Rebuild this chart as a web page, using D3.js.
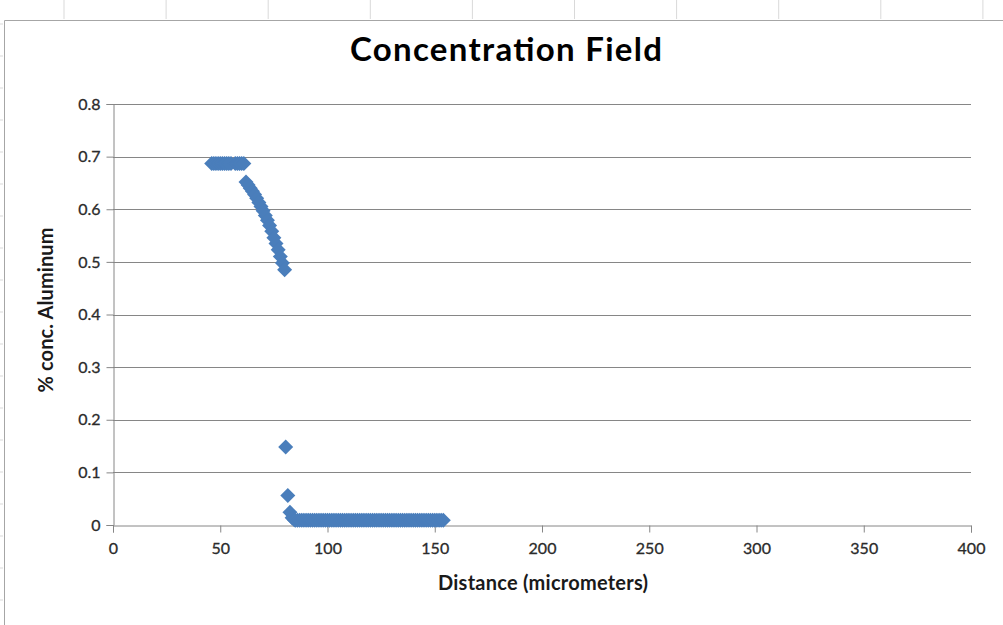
<!DOCTYPE html>
<meta charset="utf-8" />
<script src="https://d3js.org/d3.v7.min.js"></script>
<style>
  body { margin: 0; background: #fff; }
  text { font-family: Lato, "Open Sans", sans-serif; }
</style>
<svg id="chart" width="1003" height="625"></svg>
<script>
  // data (distance in micrometers, fraction Al)
  var plateauX = [46, 47, 48, 49, 50, 51, 52, 53, 54, 55, 57, 58, 59, 60, 61];
  var plateauY = [0.687, 0.687, 0.687, 0.687, 0.687, 0.687, 0.687, 0.687, 0.687, 0.687, 0.687, 0.687, 0.687, 0.687, 0.687];
  var slopeX = [62, 63, 64, 65, 66, 67, 68, 69, 70, 71, 72, 73, 74, 75, 76, 77, 78, 79, 80];
  var slopeY = [0.652, 0.646, 0.64, 0.634, 0.628, 0.621, 0.613, 0.605, 0.597, 0.588, 0.579, 0.569, 0.558, 0.546, 0.535, 0.523, 0.51, 0.498, 0.485];
  var dropX = [80.5, 81.5, 82.5, 83.5, 84.5];
  var dropY = [0.148, 0.056, 0.024, 0.014, 0.01];
  var tailX = [85, 86, 87, 88, 89, 90, 91, 92, 93, 94, 95, 96, 97, 98, 99, 100, 101, 102, 103, 104, 105, 106, 107, 108, 109, 110,
    111, 112, 113, 114, 115, 116, 117, 118, 119, 120, 121, 122, 123, 124, 125, 126, 127, 128, 129, 130, 131, 132, 133, 134, 135,
    136, 137, 138, 139, 140, 141, 142, 143, 144, 145, 146, 147, 148, 149, 150, 151, 152, 153, 154];
  var tailY = tailX.map(function() { return 0.009; }); // flat, all read as ~0.009

  var xTicks = [0, 50, 100, 150, 200, 250, 300, 350, 400];
  var yTicks = [0, 0.1, 0.2, 0.3, 0.4, 0.5, 0.6, 0.7, 0.8];

  var points = [];
  [[plateauX, plateauY], [slopeX, slopeY], [dropX, dropY], [tailX, tailY]].forEach(function(s) {
    s[0].forEach(function(x, i) { points.push({ x: x, y: s[1][i] }); });
  });

  var svg = d3.select("#chart");
  var gridColor = "#868686";

  // spreadsheet bits behind the chart object
  var sheet = svg.append("g").attr("stroke", "#d9d9d9");
  d3.range(64, 1003, 102.1).forEach(function(x) {
    sheet.append("line").attr("x1", x).attr("x2", x).attr("y1", 0).attr("y2", 19);
  });
  d3.range(24, 625, 32).forEach(function(y) {
    sheet.append("line").attr("x1", 0).attr("x2", 3).attr("y1", y).attr("y2", y);
  });

  // chart object frame
  svg.append("path")
    .attr("d", "M4.5,625V20.5H1003")
    .attr("fill", "none")
    .attr("stroke", "#a6a6a6");

  var x = d3.scaleLinear().domain([0, 400]).range([113, 971]);
  var y = d3.scaleLinear().domain([0, 0.8]).range([525, 104]);

  // horizontal gridlines
  svg.append("g")
    .selectAll("line")
    .data(yTicks.slice(1))
    .enter()
    .append("line")
    .attr("x1", x(0))
    .attr("x2", x(400))
    .attr("y1", function(d) { return Math.round(y(d)) + 0.5; })
    .attr("y2", function(d) { return Math.round(y(d)) + 0.5; })
    .attr("stroke", gridColor);

  // axes
  var xAxis = svg.append("g")
    .attr("transform", "translate(0," + (Math.round(y(0)) + 0.5) + ")")
    .call(d3.axisBottom(x).tickValues(xTicks).tickSize(7).tickPadding(10).tickFormat(d3.format("d")));
  var yAxis = svg.append("g")
    .attr("transform", "translate(" + (Math.round(x(0)) + 0.5) + ",0)")
    .call(d3.axisLeft(y).tickValues(yTicks).tickSize(7).tickPadding(6).tickFormat(function(d) { return d === 0 ? "0" : d3.format(".1f")(d); }));

  [xAxis, yAxis].forEach(function(a) {
    a.select(".domain").attr("stroke", gridColor);
    a.selectAll(".tick line").attr("stroke", gridColor);
    a.selectAll(".tick text")
      .attr("fill", "#2b2b2b")
      .attr("stroke", "#2b2b2b")
      .attr("stroke-width", 0.3)
      .style("font-family", "Lato, sans-serif")
      .style("font-size", "16px");
  });

  // markers
  svg.append("g")
    .selectAll("path")
    .data(points)
    .enter()
    .append("path")
    .attr("d", "M0,-7.5L7.5,0L0,7.5L-7.5,0Z")
    .attr("transform", function(d) { return "translate(" + x(d.x) + "," + y(d.y) + ")"; })
    .attr("fill", "#4a7ebb");

  // titles
  svg.append("text")
    .attr("x", 506)
    .attr("y", 61)
    .attr("text-anchor", "middle")
    .attr("textLength", 312)
    .style("font-size", "33px")
    .style("font-weight", "bold")
    .text("Concentration Field");

  svg.append("text")
    .attr("x", 543)
    .attr("y", 590)
    .attr("text-anchor", "middle")
    .attr("textLength", 210)
    .style("font-size", "20px")
    .style("font-weight", "bold")
    .attr("fill", "#1a1a1a")
    .text("Distance (micrometers)");

  svg.append("text")
    .attr("transform", "translate(53,310) rotate(-90)")
    .attr("text-anchor", "middle")
    .attr("textLength", 165)
    .style("font-size", "20px")
    .style("font-weight", "bold")
    .attr("fill", "#1a1a1a")
    .text("% conc. Aluminum");
</script>
